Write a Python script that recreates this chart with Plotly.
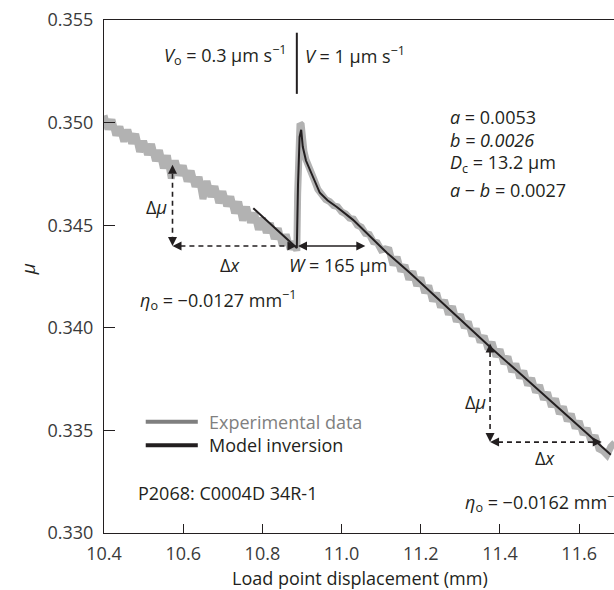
import plotly.graph_objects as go

# ---------------- data ----------------
exp_x = [
    10.40, 10.41, 10.42, 10.43, 10.44, 10.45, 10.46, 10.47, 10.48, 10.49,
    10.50, 10.51, 10.52, 10.53, 10.54, 10.55, 10.56, 10.57, 10.58, 10.59,
    10.60, 10.61, 10.62, 10.63, 10.64, 10.65, 10.66, 10.67, 10.68, 10.69,
    10.70, 10.71, 10.72, 10.73, 10.74, 10.75, 10.76, 10.77, 10.78, 10.79,
    10.80, 10.81, 10.82, 10.83, 10.84, 10.85, 10.86, 10.87, 10.88,
    10.887, 10.889, 10.892, 10.895, 10.898, 10.901, 10.905, 10.910, 10.915, 10.920,
    10.93, 10.94, 10.95, 10.96, 10.97, 10.98, 10.99, 11.00, 11.01, 11.02,
    11.03, 11.04, 11.05, 11.06, 11.07, 11.08, 11.09, 11.10, 11.11,
    11.12, 11.13, 11.14, 11.15, 11.16, 11.17, 11.18, 11.19, 11.20, 11.21,
    11.22, 11.23, 11.24, 11.25, 11.26, 11.27, 11.28, 11.29, 11.30, 11.31,
    11.32, 11.33, 11.34, 11.35, 11.36, 11.37, 11.38, 11.39, 11.40, 11.41,
    11.42, 11.43, 11.44, 11.45, 11.46, 11.47, 11.48, 11.49, 11.50, 11.51,
    11.52, 11.53, 11.54, 11.55, 11.56, 11.57, 11.58, 11.59, 11.60, 11.61,
    11.62, 11.63, 11.64, 11.65, 11.66, 11.67, 11.68, 11.69,
]
exp_mu = [
    0.35035, 0.34968, 0.35015, 0.34938, 0.34980, 0.34908, 0.34965, 0.34898, 0.34945, 0.34858,
    0.34910, 0.34843, 0.34895, 0.34813, 0.34865, 0.34778, 0.34840, 0.34728, 0.34815, 0.34743,
    0.34790, 0.34713, 0.34765, 0.34688, 0.34735, 0.34628, 0.34715, 0.34638, 0.34690, 0.34608,
    0.34665, 0.34593, 0.34640, 0.34558, 0.34615, 0.34523, 0.34590, 0.34513, 0.34560, 0.34478,
    0.34535, 0.34463, 0.34510, 0.34433, 0.34485, 0.34403, 0.34455, 0.34383, 0.34420,
    0.34375, 0.34650, 0.34900, 0.34995, 0.34990, 0.34920, 0.34860, 0.34820, 0.34790, 0.34770,
    0.34725, 0.34675, 0.34650, 0.34625, 0.34615, 0.34595, 0.34590, 0.34565, 0.34555, 0.34535,
    0.34530, 0.34500, 0.34490, 0.34460, 0.34455, 0.34420, 0.34415, 0.34380, 0.34385,
    0.34380, 0.34305, 0.34345, 0.34275, 0.34305, 0.34235, 0.34275, 0.34205, 0.34245, 0.34170,
    0.34205, 0.34130, 0.34170, 0.34100, 0.34135, 0.34065, 0.34105, 0.34030, 0.34065, 0.34000,
    0.34030, 0.33960, 0.33995, 0.33930, 0.33960, 0.33895, 0.33930, 0.33860, 0.33895, 0.33825,
    0.33860, 0.33785, 0.33825, 0.33755, 0.33790, 0.33720, 0.33755, 0.33685, 0.33720, 0.33650,
    0.33685, 0.33615, 0.33655, 0.33580, 0.33615, 0.33545, 0.33580, 0.33510, 0.33545, 0.33480,
    0.33510, 0.33445, 0.33475, 0.33410, 0.33400, 0.33380, 0.33420, 0.33440,
]

model_x = [
    10.777, 10.80, 10.83, 10.86, 10.887, 10.890, 10.894, 10.898, 10.900, 10.902,
    10.910, 10.920, 10.932, 10.945, 10.965, 10.988, 11.029, 11.072, 11.115, 11.173,
    11.25, 11.30, 11.375, 11.45, 11.50, 11.55, 11.60, 11.657, 11.68,
]
model_mu = [
    0.34583, 0.34542, 0.34489, 0.34437, 0.34389, 0.34700, 0.34930, 0.34965, 0.34935, 0.34882,
    0.34815, 0.34770, 0.34712, 0.34658, 0.34620, 0.34589, 0.34526, 0.34443, 0.34365, 0.34267,
    0.34128, 0.34040, 0.33906, 0.33778, 0.33692, 0.33605, 0.33519, 0.33420, 0.33381,
]

x_ticks = [10.4, 10.6, 10.8, 11.0, 11.2, 11.4, 11.6]
x_tick_labels = ["10.4", "10.6", "10.8", "11.0", "11.2", "11.4", "11.6"]
y_ticks = [0.330, 0.335, 0.340, 0.345, 0.350, 0.355]
y_tick_labels = ["0.330", "0.335", "0.340", "0.345", "0.350", "0.355"]

series_names = ["Experimental data", "Model inversion"]
param_lines = [
    "<i>a</i> = 0.0053",
    "<i>b = 0.0026</i>",
    "<i>D</i><sub>c</sub> = 13.2 μm",
    "<i>a</i> − <i>b</i> = 0.0027",
]

# annotation anchor positions (data units)
step_x = 10.887
tri1 = dict(x0=10.573, x1=10.886, y0=0.34399, y1=0.34794)
tri2 = dict(x0=11.375, x1=11.657, y0=0.33443, y1=0.33923)
w_arrow = (10.890, 11.060, 0.34399)

FONT = "Open Sans, Noto Sans, DejaVu Sans, sans-serif"
TXT = "#231f20"
GRAY_LINE = "#b2b2b2"
FS = 18

fig = go.Figure()
fig.add_trace(go.Scatter(x=exp_x, y=exp_mu, mode="lines", name=series_names[0],
                         line=dict(color=GRAY_LINE, width=7), showlegend=False))
fig.add_trace(go.Scatter(x=model_x, y=model_mu, mode="lines", name=series_names[1],
                         line=dict(color=TXT, width=2), showlegend=False))

shapes = []
annotations = []


def txt(x, y, text, xanchor="left", size=FS, color=TXT, xref="x", yref="y", **kw):
    annotations.append(dict(x=x, y=y, xref=xref, yref=yref, text=text, showarrow=False,
                            xanchor=xanchor, yanchor="middle",
                            font=dict(family=FONT, size=size, color=color), **kw))


def seg(x0, y0, x1, y1, dash="5px,4px"):
    shapes.append(dict(type="line", xref="x", yref="y", x0=x0, y0=y0, x1=x1, y1=y1,
                       line=dict(color=TXT, width=1.6, dash=dash)))


# arrow heads (marker tips sit on the given points)
head_x, head_y, head_sym = [], [], []


def heads(pts):
    for (hx, hy, s) in pts:
        head_x.append(hx)
        head_y.append(hy)
        head_sym.append(s)


# velocity annotation
shapes.append(dict(type="line", xref="x", yref="y", x0=step_x, x1=step_x,
                   y0=0.35140, y1=0.35438, line=dict(color=TXT, width=2)))
txt(10.866, 0.35331, "<i>V</i><sub>o</sub> = 0.3 μm s<sup>−1</sup>", xanchor="right")
txt(10.903, 0.35331, "<i>V</i> = 1 μm s<sup>−1</sup>", xanchor="left")

# parameters
for line, yy in zip(param_lines, [0.35028, 0.34917, 0.34800, 0.34672]):
    txt(11.269, yy, line)

# left triangle
seg(tri1["x0"], tri1["y0"] + 0.0002, tri1["x0"], tri1["y1"] - 0.0002)
seg(tri1["x0"] + 0.02, tri1["y0"], tri1["x1"] - 0.02, tri1["y0"])
heads([(tri1["x0"], tri1["y1"], "arrow-up"), (tri1["x0"], tri1["y0"], "arrow-down"),
       (tri1["x0"], tri1["y0"], "arrow-left"), (tri1["x1"], tri1["y0"], "arrow-right")])
txt(10.5325, 0.34590, "Δ<i>μ</i>", xanchor="center")
txt(10.7177, 0.34306, "Δ<i>x</i>", xanchor="center")
txt(10.4852, 0.34135, "<i>η</i><sub>o</sub> = −0.0127 mm<sup>−1</sup>")

# W arrow
seg(w_arrow[0] + 0.02, w_arrow[2], w_arrow[1] - 0.02, w_arrow[2], dash="solid")
heads([(w_arrow[0], w_arrow[2], "arrow-left"), (w_arrow[1], w_arrow[2], "arrow-right")])
txt(10.9908, 0.34306, "<i>W</i> = 165 μm", xanchor="center")

# right triangle
seg(tri2["x0"], tri2["y0"] + 0.0002, tri2["x0"], tri2["y1"] - 0.0002)
seg(tri2["x0"] + 0.02, tri2["y0"], tri2["x1"] - 0.02, tri2["y0"])
heads([(tri2["x0"], tri2["y1"], "arrow-up"), (tri2["x0"], tri2["y0"], "arrow-down"),
       (tri2["x0"], tri2["y0"], "arrow-left"), (tri2["x1"], tri2["y0"], "arrow-right")])
txt(11.337, 0.33639, "Δ<i>μ</i>", xanchor="center")
txt(11.514, 0.33365, "Δ<i>x</i>", xanchor="center")
txt(11.3067, 0.33151, "<i>η</i><sub>o</sub> = −0.0162 mm<sup>−1</sup>")

fig.add_trace(go.Scatter(x=head_x, y=head_y, mode="markers", showlegend=False,
                         hoverinfo="skip",
                         marker=dict(symbol=head_sym, size=9, color=TXT,
                                     line=dict(width=0))))

# manual legend
shapes.append(dict(type="line", xref="x", yref="y", x0=10.5054, x1=10.6369,
                   y0=0.33542, y1=0.33542, line=dict(color="#7f7f7f", width=4)))
shapes.append(dict(type="line", xref="x", yref="y", x0=10.5054, x1=10.6369,
                   y0=0.33428, y1=0.33428, line=dict(color=TXT, width=4)))
txt(10.6589, 0.33542, series_names[0], color="#808080")
txt(10.6589, 0.33428, series_names[1])
txt(10.4819, 0.33194, "P2068: C0004D 34R-1")

# axis titles
txt(0.502, -0.088, "Load point displacement (mm)", xanchor="center", xref="paper", yref="paper")
txt(-0.150, 0.513, "<i>μ</i>", xanchor="center", xref="paper", yref="paper", textangle=-90, size=19)

fig.update_layout(
    width=614, height=590,
    margin=dict(l=104, r=0, t=20, b=57),
    paper_bgcolor="white", plot_bgcolor="white",
    shapes=shapes, annotations=annotations,
    xaxis=dict(range=[10.4, 11.688], tickvals=x_ticks, ticktext=x_tick_labels,
               ticks="inside", ticklen=9, tickwidth=1, tickcolor=TXT,
               showline=True, linecolor=TXT, linewidth=1.2, mirror=True,
               showgrid=False, zeroline=False, ticklabelstandoff=4,
               tickfont=dict(family=FONT, size=FS, color="#3a3a3a")),
    yaxis=dict(range=[0.330, 0.355], tickvals=y_ticks, ticktext=y_tick_labels,
               ticks="inside", ticklen=11, tickwidth=1, tickcolor=TXT,
               showline=True, linecolor=TXT, linewidth=1.2,
               showgrid=False, zeroline=False, ticklabelstandoff=6,
               tickfont=dict(family=FONT, size=FS, color="#3a3a3a")),
)

fig.write_html("out.html", config={"displayModeBar": False},
               post_script="document.body.style.margin='0px';document.body.style.overflow='hidden';")
